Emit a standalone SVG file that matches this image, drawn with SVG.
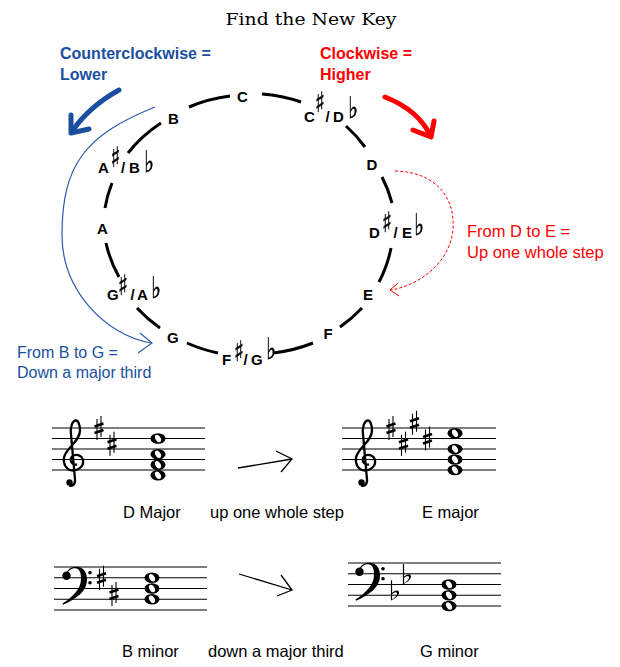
<svg xmlns="http://www.w3.org/2000/svg" width="620" height="667" viewBox="0 0 620 667">
<style>
.lab{font-family:"Liberation Sans",Arial,sans-serif;font-weight:bold;font-size:15px;fill:#000}
.sh{font-family:"DejaVu Sans",sans-serif;font-size:28px;fill:#000;stroke:#000;stroke-width:0.5}
.fl{font-family:"DejaVu Sans",sans-serif;font-size:30px;fill:#000;stroke:#000;stroke-width:0.5}
.arc{fill:none;stroke:#000;stroke-width:3}
.cap{font-family:"Liberation Sans",Arial,sans-serif;font-size:16.5px;fill:#000}
.bl{fill:#1a4f9f}
.rd{fill:#ff0000}
.big{font-family:"Liberation Sans",Arial,sans-serif;font-weight:bold;font-size:16px}
.note{font-family:"Liberation Sans",Arial,sans-serif;font-size:16px}
.sl{stroke:#000;stroke-width:1.2}
.thin{fill:none;stroke:#000;stroke-width:1.3}
</style>
<defs>
<filter id="gray" x="-20%" y="-20%" width="140%" height="140%"><feOffset dx="0" dy="0"/></filter>
<g id="treble">
<path d="M3,5 C-2,6 -5,1 -2,-3 C1,-6 8,-5 9,1 C10,7 4,11 -1,11 C-8,11 -11,4 -10,-2 C-8,-12 6,-18 6,-29 C6,-35 4,-39 2,-39 C-2,-39 -4,-31 -3,-25 L1,20 C1.5,25 -2,27 -5,26" fill="none" stroke="#000" stroke-width="2.3"/>
<circle cx="-4.5" cy="23" r="3.2" fill="#000"/>
</g>
<g id="bass">
<path d="M-8,-3 C-7,-9 -2,-11 2,-11 C10,-11 13,-5 13,2 C13,13 3,21 -11,27 L-11.5,25.8 C-1,19 7,11 7,1 C7,-6 5,-9.5 1,-9.5 C-3,-9.5 -6,-7 -7,-3 Z" fill="#000"/>
<circle cx="-7.5" cy="-2" r="4.2" fill="#000"/>
<circle cx="16" cy="-5" r="1.8" fill="#000"/>
<circle cx="16" cy="5" r="1.8" fill="#000"/>
</g>
<g id="sh" stroke="#000">
<line x1="-2" y1="-9" x2="-2" y2="12" stroke-width="1.1"/>
<line x1="2" y1="-12" x2="2" y2="9" stroke-width="1.1"/>
<line x1="-4.5" y1="-1.5" x2="4.5" y2="-4.5" stroke-width="2.6"/>
<line x1="-4.5" y1="5" x2="4.5" y2="2" stroke-width="2.6"/>
</g>
<g id="fl">
<line x1="-3" y1="-15" x2="-3" y2="5" stroke="#000" stroke-width="1.2"/>
<path d="M-3,5 C1,3 5,0 4.5,-3 C4,-6 0,-5 -3,-2 L-3,-0.5 C-1,-3 2,-4 2.5,-2 C3,0 0,3 -3,4.5 Z" fill="#000"/>
</g>
<g id="wn">
<ellipse rx="7.5" ry="5.3" fill="#000"/>
<ellipse rx="2.6" ry="4" fill="#fff" transform="rotate(-30)"/>
</g>
</defs>

<rect width="620" height="667" fill="#fff"/>

<text x="311" y="25" text-anchor="middle" font-family="'DejaVu Serif','Liberation Serif',serif" font-size="17" textLength="171" lengthAdjust="spacingAndGlyphs">Find the New Key</text>

<text class="big bl" x="60" y="59">Counterclockwise =</text>
<text class="big bl" x="60" y="80">Lower</text>
<text class="big rd" x="320" y="59">Clockwise =</text>
<text class="big rd" x="320" y="80">Higher</text>

<g id="circle">
<path class="arc" d="M189,107 A144,131 0 0 1 230,96 M262,94 A144,131 0 0 1 301,102 M346,126 A144,131 0 0 1 365,147 M382,177 A144,131 0 0 1 392,203 M391,248 A144,131 0 0 1 379,282 M362,308 A144,131 0 0 1 340,327 M313,343 A144,131 0 0 1 273,353 M218,353 A144,131 0 0 1 187,343 M160,328 A144,131 0 0 1 137,308 M119,277 A144,131 0 0 1 106,243 M105,208 A144,131 0 0 1 112,183 M128,153 A144,131 0 0 1 161,123"/>
</g>

<g id="n-C"><text class="lab" x="237" y="102">C</text></g>
<g id="n-Cs"><text class="lab"><tspan x="304" y="122">C</tspan><tspan x="325.5" y="122">/</tspan><tspan x="333" y="122">D</tspan></text>
<g filter="url(#gray)"><text class="sh" transform="translate(315,112) scale(0.72,1)">♯</text><text class="fl" transform="translate(348,118) scale(0.7,1)">♭</text></g></g>
<g id="n-D"><text class="lab" x="366.5" y="170">D</text></g>
<g id="n-Ds"><text class="lab"><tspan x="369" y="238">D</tspan><tspan x="393.5" y="238">/</tspan><tspan x="402" y="238">E</tspan></text>
<g filter="url(#gray)"><text class="sh" transform="translate(382,232) scale(0.72,1)">♯</text><text class="fl" transform="translate(414,235) scale(0.7,1)">♭</text></g></g>
<g id="n-E"><text class="lab" x="363" y="300">E</text></g>
<g id="n-F"><text class="lab" x="323.5" y="339">F</text></g>
<g id="n-Fs"><text class="lab"><tspan x="222" y="365">F</tspan><tspan x="243.5" y="365">/</tspan><tspan x="251" y="365">G</tspan></text>
<g filter="url(#gray)"><text class="sh" transform="translate(234,361) scale(0.72,1)">♯</text><text class="fl" transform="translate(266,359) scale(0.7,1)">♭</text></g></g>
<g id="n-G"><text class="lab" x="167" y="343">G</text></g>
<g id="n-Gs"><text class="lab"><tspan x="107" y="300">G</tspan><tspan x="130.5" y="300">/</tspan><tspan x="137" y="300">A</tspan></text>
<g filter="url(#gray)"><text class="sh" transform="translate(118,295) scale(0.72,1)">♯</text><text class="fl" transform="translate(151,298) scale(0.7,1)">♭</text></g></g>
<g id="n-A"><text class="lab" x="97" y="234">A</text></g>
<g id="n-As"><text class="lab"><tspan x="98" y="173">A</tspan><tspan x="121" y="173">/</tspan><tspan x="129" y="173">B</tspan></text>
<g filter="url(#gray)"><text class="sh" transform="translate(110.5,167) scale(0.72,1)">♯</text><text class="fl" transform="translate(144,172) scale(0.7,1)">♭</text></g></g>
<g id="n-B"><text class="lab" x="168" y="124">B</text></g>

<g id="connectors">
<path d="M119,90 Q90,106 73,130" fill="none" stroke="#1a4f9f" stroke-width="5" stroke-linecap="round"/>
<polyline points="71,115 71,133 89,129" fill="none" stroke="#1a4f9f" stroke-width="5" stroke-linecap="round" stroke-linejoin="round"/>
<path d="M385,97 Q418,110 430,135" fill="none" stroke="#ff0000" stroke-width="5" stroke-linecap="round"/>
<polyline points="413,130 431,137 434,121" fill="none" stroke="#ff0000" stroke-width="5" stroke-linecap="round" stroke-linejoin="round"/>
<path d="M155,107 C85,135 62,165 62,235 C62,290 105,335 151,343" fill="none" stroke="#2a5bb0" stroke-width="1.2"/>
<polyline points="140,333 152,343 138,353" fill="none" stroke="#2a5bb0" stroke-width="1.2"/>
<path d="M395,171 C438,172 455,200 453,228 C451,262 420,285 391,290" fill="none" stroke="#ff0000" stroke-width="1" stroke-dasharray="3,2"/>
<polyline points="398,283 390,290 399,296" fill="none" stroke="#ff0000" stroke-width="1"/>
<polyline class="thin" points="238,468 292,459"/>
<polyline class="thin" points="276,451 292,459 281,472"/>
<polyline class="thin" points="239,574 292,590"/>
<polyline class="thin" points="281,575 292,590 277,596"/>
</g>

<text class="note bl" x="17" y="358">From B to G =</text>
<text class="note bl" x="17" y="378">Down a major third</text>
<text class="cap rd" x="467" y="237">From D to E =</text>
<text class="cap rd" x="467" y="258">Up one whole step</text>

<g id="staff1">
<g class="sl"><line x1="52" y1="428" x2="205" y2="428"/><line x1="52" y1="438.5" x2="205" y2="438.5"/><line x1="52" y1="449" x2="205" y2="449"/><line x1="52" y1="459.5" x2="205" y2="459.5"/><line x1="52" y1="470" x2="205" y2="470"/></g>
<use href="#treble" x="74" y="459.5"/>
<use href="#sh" x="99" y="428"/><use href="#sh" x="112" y="443.75"/>
<use href="#wn" x="158" y="475.25"/><use href="#wn" x="158" y="464.75"/><use href="#wn" x="158" y="454.25"/><use href="#wn" x="158" y="438.5"/>
</g>
<g id="staff2">
<g class="sl"><line x1="342" y1="428" x2="496" y2="428"/><line x1="342" y1="438.5" x2="496" y2="438.5"/><line x1="342" y1="449" x2="496" y2="449"/><line x1="342" y1="459.5" x2="496" y2="459.5"/><line x1="342" y1="470" x2="496" y2="470"/></g>
<use href="#treble" x="366" y="459.5"/>
<use href="#sh" x="391" y="428"/><use href="#sh" x="403.5" y="443.75"/><use href="#sh" x="414.5" y="422.75"/><use href="#sh" x="427.5" y="438.5"/>
<use href="#wn" x="455" y="470"/><use href="#wn" x="455" y="459.5"/><use href="#wn" x="455" y="449"/><use href="#wn" x="455" y="433.25"/>
</g>
<g id="staff3">
<g class="sl"><line x1="54" y1="567" x2="207" y2="567"/><line x1="54" y1="577.75" x2="207" y2="577.75"/><line x1="54" y1="588.5" x2="207" y2="588.5"/><line x1="54" y1="599.25" x2="207" y2="599.25"/><line x1="54" y1="610" x2="207" y2="610"/></g>
<use href="#bass" x="74" y="577.75"/>
<use href="#sh" x="101.5" y="577.75"/><use href="#sh" x="114" y="593.9"/>
<use href="#wn" x="152" y="599.25"/><use href="#wn" x="152" y="588.5"/><use href="#wn" x="152" y="577.75"/>
</g>
<g id="staff4">
<g class="sl"><line x1="348" y1="563" x2="501" y2="563"/><line x1="348" y1="573.75" x2="501" y2="573.75"/><line x1="348" y1="584.5" x2="501" y2="584.5"/><line x1="348" y1="595.25" x2="501" y2="595.25"/><line x1="348" y1="606" x2="501" y2="606"/></g>
<use href="#bass" x="367" y="573.75"/>
<use href="#fl" x="394.5" y="595.25"/><use href="#fl" x="406.5" y="579.1"/>
<use href="#wn" x="449" y="606"/><use href="#wn" x="449" y="595.25"/><use href="#wn" x="449" y="584.5"/>
</g>

<text class="cap" x="123" y="518">D Major</text>
<text class="cap" x="210" y="518">up one whole step</text>
<text class="cap" x="422" y="518">E major</text>
<text class="cap" x="122" y="657">B minor</text>
<text class="cap" x="208" y="657">down a major third</text>
<text class="cap" x="420" y="657">G minor</text>
</svg>
